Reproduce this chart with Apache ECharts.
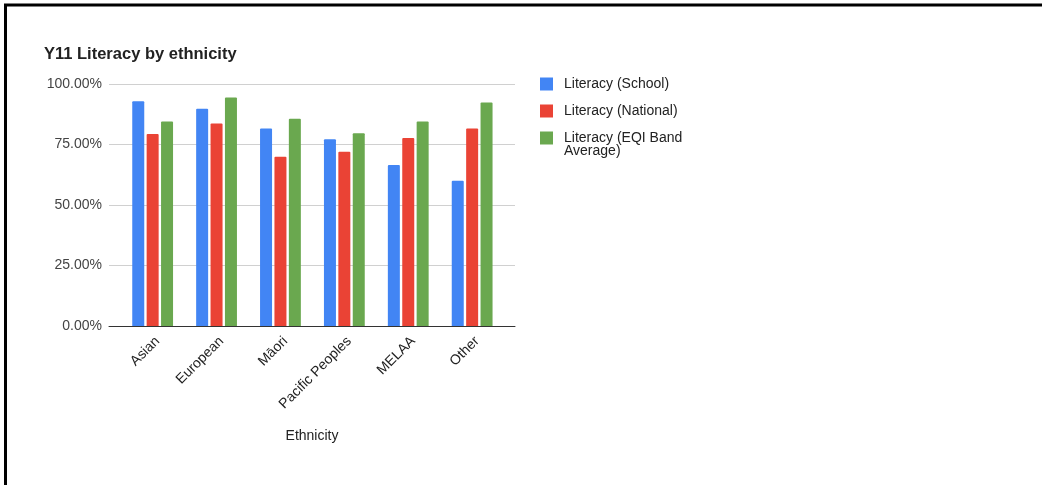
<!DOCTYPE html>
<html>
<head>
<meta charset="utf-8">
<script src="https://cdn.jsdelivr.net/npm/echarts@6/dist/echarts.min.js"></script>
<style>
  html, body { margin: 0; padding: 0; background: #fff; }
  #chart { width: 1042px; height: 485px; }
</style>
</head>
<body>
<div id="chart"></div>
<script>
// Year 11 literacy achievement rates by ethnic group (percent)
const categories = ['Asian', 'European', 'Māori', 'Pacific Peoples', 'MELAA', 'Other'];
const schoolRate   = [92.9, 89.8, 81.6, 77.2, 66.5, 60.0];
const nationalRate = [79.3, 83.7, 69.9, 72.0, 77.7, 81.6];
const eqiBandRate  = [84.5, 94.4, 85.6, 79.7, 84.5, 92.4];
const seriesNames = ['Literacy (School)', 'Literacy (National)', 'Literacy (EQI Band Average)'];
const yTicks = [0, 25, 50, 75, 100];

const FONT = '"Liberation Sans", Arial, sans-serif';
const colors = ['#4285f4', '#ea4335', '#6aa84f'];

const chart = echarts.init(document.getElementById('chart'), null, { renderer: 'canvas' });

const plotTop = 84, plotHeight = 242;

chart.setOption({
  animation: false,
  color: colors,
  textStyle: { fontFamily: FONT },
  title: {
    text: 'Y11 Literacy by ethnicity',
    left: 44, top: 46, padding: 0,
    textStyle: { fontFamily: FONT, fontSize: 16.5, fontWeight: 'bold', color: '#222' }
  },
  legend: [
    {
      data: [seriesNames[0], seriesNames[1], seriesNames[2]],
      orient: 'vertical',
      left: 540, top: 77, padding: 0,
      itemWidth: 13, itemHeight: 13, itemGap: 13,
      icon: 'rect',
      formatter: name => name === seriesNames[2] ? 'Literacy (EQI Band' : name,
      textStyle: { fontFamily: FONT, fontSize: 14, color: '#222', padding: [0, 0, 0, 6] },
      selectedMode: false
    }
  ],
  graphic: [
    {
      type: 'text', left: 564, top: 144, silent: true,
      style: { text: 'Average)', font: '14px ' + FONT, fill: '#222' }
    },
    {
      type: 'rect', silent: true,
      shape: { x: 5.5, y: 5, width: 1050, height: 500 },
      style: { fill: 'none', stroke: '#000', lineWidth: 3 }
    }
  ],
  grid: [
    { left: 109, width: 406, top: plotTop, height: plotHeight },
    { left: 120.7, width: 383.4, top: plotTop, height: plotHeight }
  ],
  xAxis: [
    {
      gridIndex: 0, type: 'value', min: 0, max: 1,
      axisLine: { show: true, onZero: false, lineStyle: { color: '#333', width: 1 } },
      axisTick: { show: false }, axisLabel: { show: false }, splitLine: { show: false },
      name: 'Ethnicity', nameLocation: 'middle', nameGap: 103,
      nameTextStyle: { fontFamily: FONT, fontSize: 14, color: '#222' }
    },
    {
      gridIndex: 1, type: 'category', data: categories,
      axisLine: { show: false }, axisTick: { show: false },
      axisLabel: { rotate: 45, margin: 8, interval: 0, verticalAlign: 'top',
                   fontFamily: FONT, fontSize: 14, color: '#222' }
    }
  ],
  yAxis: [
    {
      gridIndex: 0, type: 'value', min: yTicks[0], max: yTicks[yTicks.length - 1], interval: 25,
      axisLine: { show: false }, axisTick: { show: false },
      axisLabel: { margin: 7, fontFamily: FONT, fontSize: 14, color: '#444',
                   formatter: v => v.toFixed(2) + '%' },
      splitLine: { lineStyle: { color: '#d0d0d0', width: 1 } }
    },
    {
      gridIndex: 1, type: 'value', min: yTicks[0], max: yTicks[yTicks.length - 1], interval: 25,
      show: false, splitLine: { show: false }
    }
  ],
  series: [
    { name: seriesNames[0], data: schoolRate },
    { name: seriesNames[1], data: nationalRate },
    { name: seriesNames[2], data: eqiBandRate }
  ].map(s => Object.assign({
    type: 'bar', xAxisIndex: 1, yAxisIndex: 1,
    barWidth: 12, barGap: '20%',
    itemStyle: { borderRadius: [1, 1, 0, 0] }
  }, s))
});
</script>
</body>
</html>
